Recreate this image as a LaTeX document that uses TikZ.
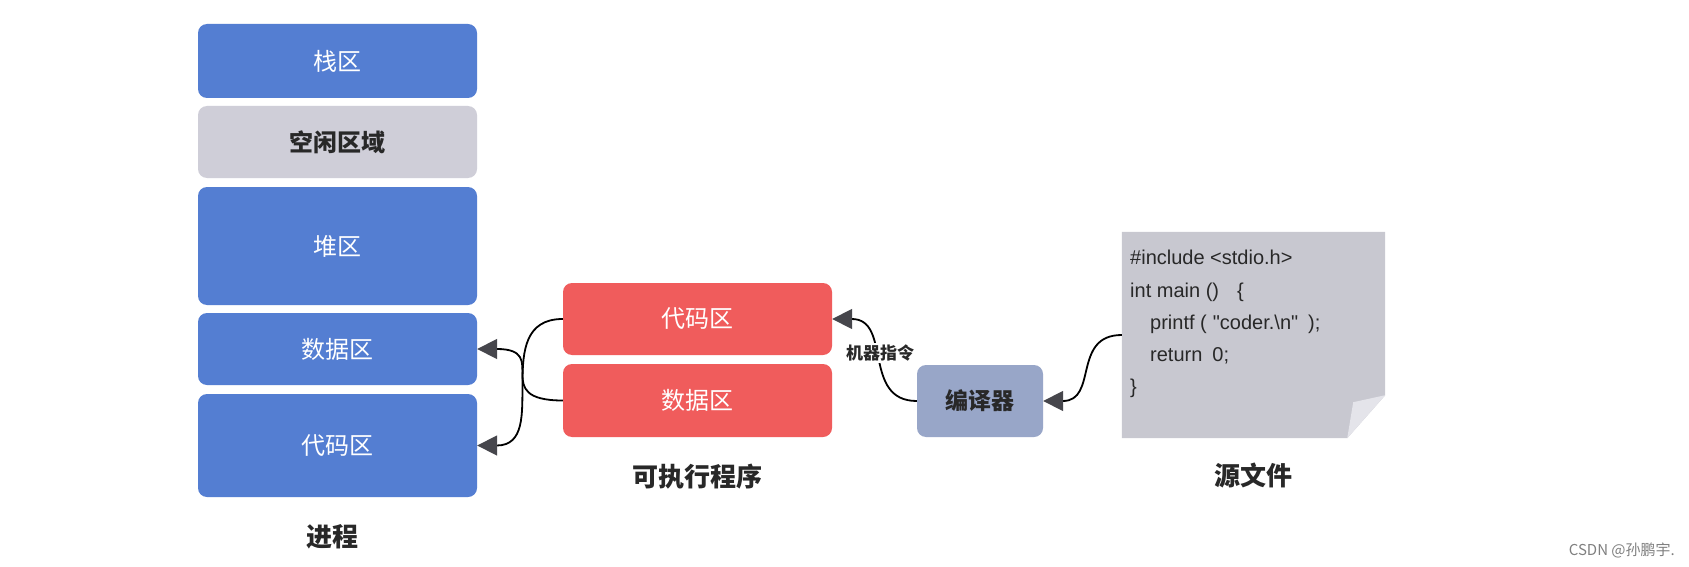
\documentclass[tikz,border=0pt]{standalone}
\usepackage{fontspec}
\setmainfont{Noto Sans CJK SC}
\newfontfamily\codefont{Liberation Sans}
\usetikzlibrary{arrows.meta,calc}
\newcommand\myfs[1]{\fontsize{#1}{#1}\selectfont}
\definecolor{boxblue}{RGB}{84,126,210}
\definecolor{freegray}{RGB}{207,206,216}
\definecolor{boxred}{RGB}{240,92,92}
\definecolor{compblue}{RGB}{152,166,200}
\definecolor{papergray}{RGB}{200,200,208}
\definecolor{flapgray}{RGB}{228,228,234}
\definecolor{tipgray}{RGB}{70,70,76}
\definecolor{darktext}{RGB}{40,40,40}
\begin{document}
\begin{tikzpicture}[x=1pt,y=-1pt,
  blk/.style={rounded corners=9pt, inner sep=0pt, font=\myfs{24}, text=white},
  procbox/.style={blk, fill=boxblue, minimum width=279pt},
  exebox/.style={blk, fill=boxred, minimum width=269pt},
  title/.style={font=\bfseries\myfs{26}, text=darktext, inner sep=0pt},
  codeline/.style={anchor=base west, inner sep=0pt, font=\codefont\myfs{20}, text=darktext},
  conn/.style={line width=1.8pt, -{Triangle[length=20pt,width=20pt,color=tipgray]}}
]
\useasboundingbox (0,0) rectangle (1689,567);
\fill[white] (0,0) rectangle (1689,567);

% process column
\node[procbox, minimum height=74pt] (stack) at (337.5,61) {栈区};
\node[blk, fill=freegray, minimum width=279pt, minimum height=72pt, text=darktext, font=\bfseries\myfs{24}] (free) at (337.5,142) {空闲区域};
\node[procbox, minimum height=118pt] (heap) at (337.5,246) {堆区};
\node[procbox, minimum height=72pt] (pdata) at (337.5,349) {数据区};
\node[procbox, minimum height=103pt] (pcode) at (337.5,445.5) {代码区};
\node[title] (proc) at (332,537) {进程};

% executable
\node[exebox, minimum height=72pt] (rcode) at (697.5,319) {代码区};
\node[exebox, minimum height=73pt] (rdata) at (697.5,400.5) {数据区};
\node[title] (exe) at (697,477) {可执行程序};

% compiler
\node[blk, fill=compblue, minimum width=126pt, minimum height=72pt, text=darktext, font=\bfseries\myfs{23}] (comp) at (980,401) {编译器};

% source file
\node[inner sep=0pt, minimum width=263pt, minimum height=206pt] (paper) at (1253.5,335) {};
\fill[papergray] (paper.north west) -- (paper.north east) -- ($(paper.south east)+(0,-43)$)
  -- ($(paper.south east)+(-38,0)$) -- (paper.south west) -- cycle;
\fill[flapgray] ($(paper.south east)+(0,-43)$) -- ($(paper.south east)+(-38,0)$) -- ($(paper.south east)+(-32,-36)$) -- cycle;
\node[codeline] (c1) at (1130,264) {\#include <stdio.h>};
\node[codeline] (c2) at (1130,297) {int main ()\hspace{18pt}\{};
\node[codeline] (c3) at (1150,329) {printf (\hspace{6pt}"coder.\textbackslash n"\hspace{10pt});};
\node[codeline] (c4) at (1150,361) {return\hspace{10pt}0;};
\node[codeline] (c5) at (1130,393) {\}};
\node[title] (src) at (1253,475) {源文件};

% connectors
\draw[conn] (rcode.west) .. controls +(-75,0) and +(75,0) .. (pcode.east);
\draw[conn] (rdata.west) .. controls +(-75,0) and +(75,0) .. (pdata.east);
\draw[conn] (comp.west) .. controls +(-55,0) and +(60,0) .. (rcode.east);
\node[fill=white, inner sep=2pt, font=\bfseries\myfs{17}, text=darktext] (mach) at (880,353) {机器指令};
\draw[conn] (paper.west) .. controls +(-50,0) and +(55,0) .. (comp.east);

% watermark
\node[anchor=east, inner sep=0pt, font=\myfs{15}, text=gray] (wm) at (1675,550) {CSDN @孙鹏宇.};
\end{tikzpicture}
\end{document}
